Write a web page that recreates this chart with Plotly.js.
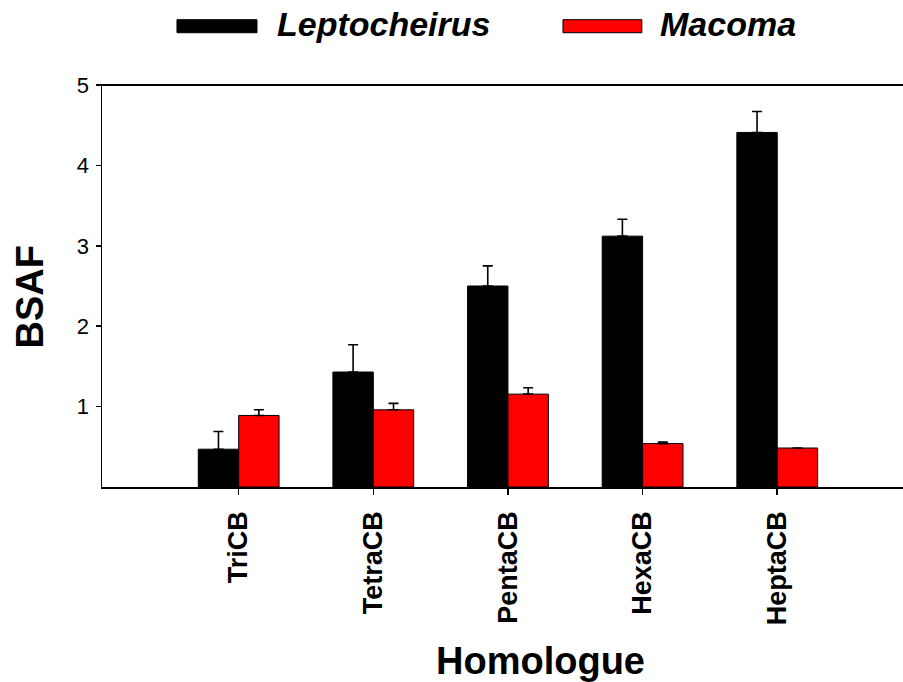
<!DOCTYPE html>
<html>
<head>
<meta charset="utf-8">
<script src="https://cdn.plot.ly/plotly-3.0.1.min.js"></script>
<style>html,body{margin:0;padding:0;background:#fff;}</style>
</head>
<body>
<div id="chart" style="width:903px;height:682px;"></div>
<script>
// ---- data ----
const categories = ["TriCB", "TetraCB", "PentaCB", "HexaCB", "HeptaCB"];
const seriesNames = ["Leptocheirus", "Macoma"];
const leptoValues = [0.47, 1.43, 2.50, 3.12, 4.41];
const leptoErrors = [0.22, 0.34, 0.25, 0.21, 0.26];
const macomaValues = [0.89, 0.96, 1.155, 0.54, 0.485];
const macomaErrors = [0.07, 0.08, 0.08, 0.02, 0.0];
const yTickVals = [1, 2, 3, 4, 5];
const xTitle = "Homologue";
const yTitle = "BSAF";

const FONT = "Liberation Sans, Arial, sans-serif";
const zeros = categories.map(() => 0);

function barTrace(name, y, err, color) {
  return {
    type: "bar", name: name, x: categories, y: y,
    marker: { color: color, line: { color: "#000", width: 1 } },
    error_y: { type: "data", symmetric: false, array: err, arrayminus: zeros,
               color: "#000", thickness: 1.6, width: 5 },
    showlegend: false
  };
}

const traces = [
  barTrace(seriesNames[0], leptoValues, leptoErrors, "#000000"),
  barTrace(seriesNames[1], macomaValues, macomaErrors, "#ff0000")
];

const layout = {
  width: 903, height: 682,
  margin: { l: 102, r: 0, t: 85, b: 195, pad: 0 },
  paper_bgcolor: "#fff", plot_bgcolor: "#fff",
  barmode: "group", bargap: 0.4, bargroupgap: 0,
  font: { family: FONT, color: "#000" },
  xaxis: {
    type: "category", range: [-1.015, 4.934],
    showline: true, linecolor: "#000", linewidth: 1.5, mirror: true,
    ticks: "outside", ticklen: 6, tickwidth: 1.5, tickcolor: "#000",
    tickangle: -90, ticklabelstandoff: 6,
    tickfont: { family: FONT, size: 27, weight: "bold", color: "#000" },
    showgrid: false, zeroline: false, fixedrange: true
  },
  yaxis: {
    range: [0, 5], tickvals: yTickVals,
    showline: true, linecolor: "#000", linewidth: 1.5,
    ticks: "outside", ticklen: 5, tickwidth: 1.5, tickcolor: "#000",
    ticklabelstandoff: 2,
    tickfont: { family: FONT, size: 22, color: "#000" },
    showgrid: false, zeroline: false, fixedrange: true
  },
  shapes: [
    { type: "line", xref: "paper", yref: "y", x0: 0, x1: 1, y0: 5, y1: 5,
      line: { color: "#000", width: 1.8 }, layer: "above" },
    { type: "rect", xref: "paper", yref: "paper", x0: 0.0936, x1: 0.1935, y0: 1.13, y1: 1.1625,
      fillcolor: "#000000", line: { color: "#000", width: 1 } },
    { type: "rect", xref: "paper", yref: "paper", x0: 0.5755, x1: 0.674, y0: 1.13, y1: 1.1625,
      fillcolor: "#ff0000", line: { color: "#000", width: 1 } }
  ],
  annotations: [
    { text: seriesNames[0], xref: "paper", yref: "paper", x: 0.216, y: 1.152,
      xanchor: "left", yanchor: "middle", showarrow: false,
      font: { family: FONT, size: 34, weight: "bold", style: "italic", color: "#000" } },
    { text: seriesNames[1], xref: "paper", yref: "paper", x: 0.694, y: 1.152,
      xanchor: "left", yanchor: "middle", showarrow: false,
      font: { family: FONT, size: 34, weight: "bold", style: "italic", color: "#000" } },
    { text: xTitle, xref: "paper", yref: "paper", x: 0.548, y: -0.433,
      xanchor: "center", yanchor: "middle", showarrow: false,
      font: { family: FONT, size: 38, weight: "bold", color: "#000" } },
    { text: yTitle, xref: "paper", yref: "paper", x: -0.0899, y: 0.474, textangle: -90,
      xanchor: "center", yanchor: "middle", showarrow: false,
      font: { family: FONT, size: 38, weight: "bold", color: "#000" } }
  ]
};

Plotly.newPlot("chart", traces, layout, { displayModeBar: false, staticPlot: true });
</script>
</body>
</html>
